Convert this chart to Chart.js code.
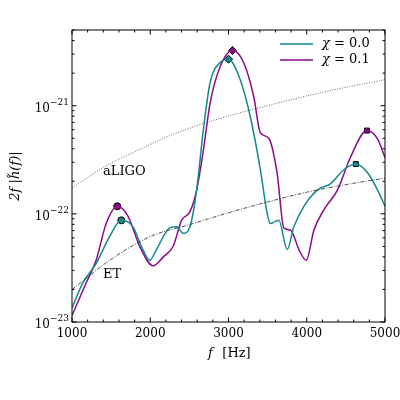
<!DOCTYPE html>
<html><head><meta charset="utf-8">
<script src="https://cdn.jsdelivr.net/npm/chart.js@4/dist/chart.umd.min.js"></script>
<style>body{margin:0;background:#fff}#wrap{width:400px;height:400px}</style>
</head><body><div id="wrap"><canvas id="c"></canvas></div>
<script>
// frequencies (Hz) and log10 amplitudes
const freqA = [1000,1137,1308,1480,1630,1780,1887,1994,2079,2250,2336,2422,2507,2593,2679,2764,2893,3000,3150,3278,3407,3493,3535,3600,3643,3750,3835,3964,4135,4306,4478,4628,4777,4906,5000];
const logA  = [-22.87,-22.64,-22.46,-22.21,-22.06,-22.12,-22.30,-22.43,-22.33,-22.13,-22.12,-22.18,-22.12,-21.78,-21.22,-20.79,-20.60,-20.57,-20.76,-21.10,-21.59,-21.99,-22.09,-22.07,-22.06,-22.33,-22.12,-21.93,-21.78,-21.72,-21.59,-21.54,-21.62,-21.78,-21.93];
const freqB = [1000,1180,1308,1437,1578,1715,1865,2036,2165,2293,2400,2507,2593,2679,2764,2893,3051,3193,3321,3407,3514,3621,3707,3792,3900,3994,4092,4221,4392,4563,4769,4906,5000];
const logB  = [-22.94,-22.64,-22.43,-22.09,-21.93,-22.02,-22.30,-22.48,-22.40,-22.30,-22.06,-21.98,-21.78,-21.41,-20.98,-20.64,-20.49,-20.60,-20.91,-21.25,-21.30,-21.62,-22.13,-22.15,-22.33,-22.43,-22.15,-21.96,-21.78,-21.47,-21.23,-21.31,-21.48];
const markA = [[1630,-22.06,'circle'],[3000,-20.57,'rectRot'],[4628,-21.54,'rect']];
const markB = [[1578,-21.93,'circle'],[3051,-20.49,'rectRot'],[4769,-21.23,'rect']];
const freqLIGO = [1000,1425,1850,2270,2700,3125,3550,4000,4500,5000];
const logLIGO  = [-21.76,-21.56,-21.41,-21.27,-21.16,-21.07,-20.99,-20.91,-20.83,-20.76];
const freqET = [1000,1480,2000,2500,3000,3500,4000,4500,5000];
const logET  = [-22.70,-22.43,-22.21,-22.10,-21.99,-21.89,-21.80,-21.73,-21.67];
const xTicks = [1000,2000,3000,4000,5000];
const yTicks = [-23,-22,-21];

const TEAL = '#138a8a', PURP = '#8b0a8b', FONT = '"DejaVu Serif", serif';
const pts = (xs, ls) => xs.map((x, i) => ({x, y: Math.pow(10, ls[i])}));
const marks = (m, col) => ({
  data: m.map(p => ({x: p[0], y: Math.pow(10, p[1])})),
  pointStyle: m.map(p => p[2]), pointRadius: m.map(p => p[2] === 'rectRot' ? 4 : 3.5),
  backgroundColor: col, borderColor: '#000', borderWidth: 1, showLine: false
});

const decor = {
  id: 'decor',
  afterDraw(chart) {
    const {ctx, chartArea: a, scales: {x, y}} = chart;
    ctx.save();
    ctx.strokeStyle = '#000'; ctx.fillStyle = '#000'; ctx.lineWidth = 1;
    ctx.strokeRect(a.left, a.top, a.right - a.left, a.bottom - a.top);
    ctx.beginPath();
    for (let f = 1000; f <= 5000; f += 200) {
      const px = x.getPixelForValue(f), len = f % 1000 ? 2.5 : 4.5;
      ctx.moveTo(px, a.bottom); ctx.lineTo(px, a.bottom - len);
      ctx.moveTo(px, a.top); ctx.lineTo(px, a.top + len);
    }
    for (let e = -23; e <= -21; e++) for (let m = 1; m < 10; m++) {
      const v = m * Math.pow(10, e);
      if (v > y.max) continue;
      const py = y.getPixelForValue(v), len = m === 1 ? 4.5 : 2.5;
      ctx.moveTo(a.left, py); ctx.lineTo(a.left + len, py);
      ctx.moveTo(a.right, py); ctx.lineTo(a.right - len, py);
    }
    ctx.stroke();
    ctx.font = '12px ' + FONT; ctx.textAlign = 'center'; ctx.textBaseline = 'top';
    xTicks.forEach(t => ctx.fillText(String(t), x.getPixelForValue(t), a.bottom + 6));
    yTicks.forEach(e => {
      const py = y.getPixelForValue(Math.pow(10, e));
      ctx.font = '12px ' + FONT; ctx.textAlign = 'right'; ctx.textBaseline = 'middle';
      ctx.fillText('10', a.left - 22, py + 3);
      ctx.font = '9px ' + FONT; ctx.textAlign = 'left';
      ctx.fillText('\u2212' + String(-e), a.left - 22, py - 3);
    });
    ctx.font = 'italic 13px ' + FONT; ctx.textAlign = 'center'; ctx.textBaseline = 'top';
    ctx.fillText('f', x.getPixelForValue(3000) - 18, a.bottom + 25);
    ctx.font = '13px ' + FONT; ctx.fillText('[Hz]', x.getPixelForValue(3000) + 8, a.bottom + 25);
    ctx.translate(16, (a.top + a.bottom) / 2); ctx.rotate(-Math.PI / 2);
    ctx.textBaseline = 'middle'; ctx.font = 'italic 13px ' + FONT;
    ctx.fillText('2f |h\u0303(f)|', 0, 0);
    ctx.restore();
    ctx.save();
    ctx.font = '13px ' + FONT; ctx.fillStyle = '#000'; ctx.textBaseline = 'middle';
    ctx.fillText('aLIGO', 103, 172); ctx.fillText('ET', 103, 275);
    [[TEAL, '0.0', 44], [PURP, '0.1', 60]].forEach(([c, v, py]) => {
      ctx.strokeStyle = c; ctx.lineWidth = 1.5;
      ctx.beginPath(); ctx.moveTo(280, py); ctx.lineTo(313, py); ctx.stroke();
      ctx.font = 'italic 13px ' + FONT; ctx.fillText('\u03c7', 322, py);
      ctx.font = '13px ' + FONT; ctx.fillText('= ' + v, 334, py);
    });
    ctx.restore();
  }
};

new Chart(document.getElementById('c'), {
  type: 'line',
  data: {datasets: [
    {data: pts(freqLIGO, logLIGO), borderColor: '#444', borderWidth: 0.8, borderDash: [1, 1.5], pointRadius: 0, cubicInterpolationMode: 'monotone'},
    {data: pts(freqET, logET), borderColor: '#222', borderWidth: 0.8, borderDash: [4, 1.5, 1, 1.5], pointRadius: 0, cubicInterpolationMode: 'monotone'},
    {data: pts(freqA, logA), borderColor: TEAL, borderWidth: 1.5, pointRadius: 0, cubicInterpolationMode: 'monotone'},
    {data: pts(freqB, logB), borderColor: PURP, borderWidth: 1.5, pointRadius: 0, cubicInterpolationMode: 'monotone'},
    marks(markA, TEAL), marks(markB, PURP)
  ]},
  options: {
    responsive: true, maintainAspectRatio: false, animation: false, events: [],
    layout: {padding: {left: 72, top: 30, right: 15, bottom: 78}},
    plugins: {legend: {display: false}, tooltip: {enabled: false}},
    scales: {
      x: {type: 'linear', min: 1000, max: 5000, display: false},
      y: {type: 'logarithmic', min: 1e-23, max: Math.pow(10, -20.3), display: false}
    }
  },
  plugins: [decor]
});
</script></body></html>
